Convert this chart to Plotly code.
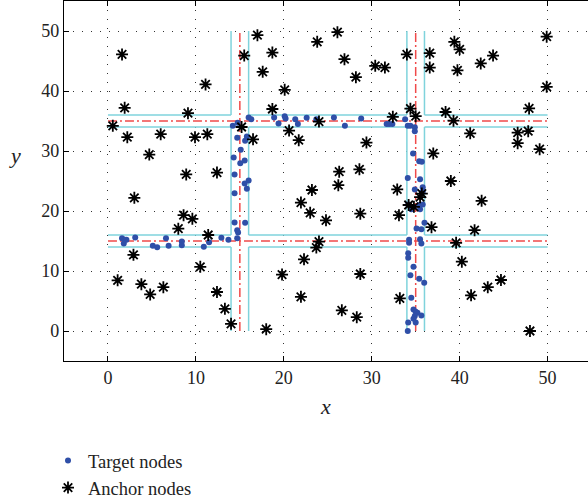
import plotly.graph_objects as go

# ---------------- data ----------------
road_centers = [15, 35]          # road centre lines (x and y)
road_half_width = 1
field_min, field_max = 0, 50

target_x = [
    14.2, 14.75, 14.7, 15.1, 14.3, 15.05, 15.55, 15.6, 15.8, 14.4, 15.55, 16.0, 15.8, 14.4,
    14.4, 14.7, 14.8, 15.6, 14.7,
    16.0, 16.3, 18.9, 19.4, 20.1, 20.2, 21.3, 21.6, 22.6, 23.7, 25.7, 26.95, 28.8, 31.7, 32.0,
    32.35, 33.8, 34.1, 34.4, 34.9, 34.9,
    34.7, 35.4, 35.7, 34.1, 35.5, 34.9, 35.8, 35.8, 34.15, 34.5, 35.5, 35.8, 35.4, 36.0, 35.1, 35.65,
    34.25, 34.25, 35.5, 35.65,
    34.15, 34.15, 34.75, 34.4, 35.4, 35.97, 34.5, 34.75, 35.0, 35.2, 35.65, 34.9, 34.75, 34.15, 35.0, 34.1,
    1.6, 1.9, 2.1, 1.8, 3.1, 5.1, 5.6, 6.6, 6.9, 8.4, 8.4, 10.9, 11.5, 12.9, 13.7,
]
target_y = [
    34.2, 34.7, 32.2, 30.2, 28.9, 27.95, 28.4, 31.7, 32.4, 26.1, 24.6, 25.1, 23.7, 22.95,
    18.1, 16.8, 16.4, 18.05, 15.45,
    35.6, 35.3, 35.6, 34.6, 35.8, 35.4, 35.3, 34.5, 35.55, 35.3, 35.6, 34.2, 35.4, 34.5, 34.5,
    34.5, 35.3, 34.2, 34.2, 33.95, 33.3,
    29.6, 28.3, 28.2, 25.5, 25.3, 23.6, 23.95, 23.2, 21.1, 20.3, 20.3, 21.1, 21.0, 18.05, 17.1, 16.95,
    15.2, 14.7, 15.3, 14.6,
    12.95, 12.2, 10.7, 9.3, 8.7, 8.05, 5.55, 3.6, 3.2, 3.05, 2.6, 2.5, 2.05, 1.4, 1.4, 0.0,
    15.45, 15.2, 15.2, 14.6, 15.6, 14.2, 13.95, 15.45, 14.2, 14.9, 14.3, 14.05, 14.8, 15.55, 15.2,
]

anchor_x = [
    1.6, 11.1, 1.9, 9.1, 0.55, 2.2, 6.0, 9.9, 11.3, 4.7, 8.9, 12.4, 15.2, 15.5, 17.0, 18.7, 17.6,
    20.1, 18.7, 23.8, 26.1, 26.9, 28.2, 30.4, 31.5, 34.0, 34.4, 32.4, 24.0, 16.5, 20.6, 21.7, 29.4,
    26.3, 28.6, 36.6, 36.6, 39.4, 40.0, 39.75, 42.4, 43.8, 49.9, 49.9, 47.9, 35.0, 38.4, 39.3, 41.2,
    46.6, 47.8, 46.6, 49.1, 37.0, 39.0, 3.0, 8.6, 9.6, 8.0, 11.4, 2.9, 10.5, 1.1, 3.8, 6.3, 4.8,
    12.4, 13.3, 14.0, 18.0, 23.2, 26.2, 21.95, 23.0, 24.8, 28.7, 32.9, 33.1, 34.2, 34.8, 24.0, 23.7,
    22.3, 19.8, 28.7, 21.95, 33.2, 26.6, 28.3, 35.7, 35.5, 36.8, 41.7, 42.5, 39.6, 40.25, 41.3,
    43.2, 44.7, 48.0,
]
anchor_y = [
    46.1, 41.1, 37.2, 36.3, 34.2, 32.3, 32.8, 32.3, 32.8, 29.4, 26.1, 26.4, 34.0, 45.9, 49.3, 46.4, 43.2,
    40.2, 37.0, 48.2, 49.8, 45.3, 42.3, 44.2, 43.9, 46.1, 37.05, 35.7, 34.9, 31.95, 33.4, 31.8, 31.4,
    26.55, 26.95, 46.3, 43.9, 48.2, 46.95, 43.45, 44.6, 45.9, 49.05, 40.7, 37.1, 35.8, 36.5, 35.05, 32.95,
    33.05, 33.3, 31.3, 30.3, 29.6, 25.0, 22.2, 19.3, 18.7, 17.05, 16.0, 12.7, 10.7, 8.45, 7.8, 7.3, 6.1,
    6.5, 3.7, 1.2, 0.3, 23.5, 24.3, 21.4, 19.7, 18.45, 19.55, 23.6, 19.3, 21.0, 20.7, 14.9, 13.9,
    11.95, 9.4, 9.5, 5.7, 5.45, 3.45, 2.3, 22.9, 22.3, 17.3, 16.8, 21.7, 14.7, 11.55, 5.95,
    7.3, 8.5, 0.0,
]

x_ticks = [0, 10, 20, 30, 40, 50]
y_ticks = [0, 10, 20, 30, 40, 50]

# ---------------- styles ----------------
CYAN = "#7fd3dc"
RED = "#f04a4a"
BLUE = "#2f4fa8"
FONT = "'Liberation Serif', 'DejaVu Serif', serif"
W, H = 588, 502

fig = go.Figure()

# road borders (cyan) built from road centres
stops = [field_min]
for c in road_centers:
    stops += [c - road_half_width, c + road_half_width]
stops.append(field_max)
spans = [(stops[i], stops[i + 1]) for i in range(0, len(stops), 2)]

bx, by = [], []
for c in road_centers:
    for edge in (c - road_half_width, c + road_half_width):
        for a, b in spans:
            bx += [a, b, None]
            by += [edge, edge, None]
            bx += [edge, edge, None]
            by += [a, b, None]
fig.add_trace(go.Scatter(x=bx, y=by, mode="lines", line=dict(color=CYAN, width=1.5),
                         showlegend=False, hoverinfo="skip"))

# road centre lines (red dash-dot)
rx, ry = [], []
for c in road_centers:
    rx += [field_min, field_max, None, c, c, None]
    ry += [c, c, None, field_min, field_max, None]
fig.add_trace(go.Scatter(x=rx, y=ry, mode="lines",
                         line=dict(color=RED, width=1.5, dash="9px,3px,2px,3px"),
                         showlegend=False, hoverinfo="skip"))

fig.add_trace(go.Scatter(x=target_x, y=target_y, mode="markers", name="Target nodes",
                         marker=dict(color=BLUE, size=6, line=dict(width=0))))
fig.add_trace(go.Scatter(x=anchor_x, y=anchor_y, mode="markers", name="Anchor nodes",
                         marker=dict(symbol="asterisk-open", size=10, color="black",
                                     line=dict(color="black", width=1.8))))

axis_common = dict(
    showline=True, linecolor="black", linewidth=1.2,
    ticks="inside", ticklen=5, tickcolor="black", tickwidth=1,
    showgrid=True, gridcolor="#333333", gridwidth=1, griddash="1px,8px",
    zeroline=False, tickfont=dict(family=FONT, size=18, color="#222"),
)

# plot area: left 64 px, top 1 px, bottom 361 px (right edge at window edge)
fig.update_xaxes(range=[-5, 54.6], tickvals=x_ticks, mirror="ticks",
                 domain=[0, 1], **axis_common)
fig.update_yaxes(range=[-5, 55], tickvals=y_ticks, mirror=False,
                 domain=[(H - 361) / H, (H - 1) / H], **axis_common)


def px_x(p):
    return (p - 64) / (W - 64)


def px_y(p):
    return (H - p) / H


fig.update_layout(
    width=W, height=H,
    margin=dict(l=64, r=0, t=0, b=0, autoexpand=False),
    plot_bgcolor="white", paper_bgcolor="white",
    showlegend=True,
    legend=dict(x=px_x(48), y=px_y(442), xanchor="left", yanchor="top",
                font=dict(family=FONT, size=18.5, color="#222"),
                itemwidth=30, bgcolor="rgba(0,0,0,0)", tracegroupgap=0),
    annotations=[
        dict(text="<i>x</i>", x=px_x(325), y=px_y(406), xref="paper", yref="paper",
             xanchor="center", yanchor="middle",
             showarrow=False, font=dict(family=FONT, size=22, color="#222")),
        dict(text="<i>y</i>", x=px_x(15), y=px_y(156), xref="paper", yref="paper",
             xanchor="center", yanchor="middle",
             showarrow=False, font=dict(family=FONT, size=22, color="#222")),
    ],
)

fig.write_html("out.html")
